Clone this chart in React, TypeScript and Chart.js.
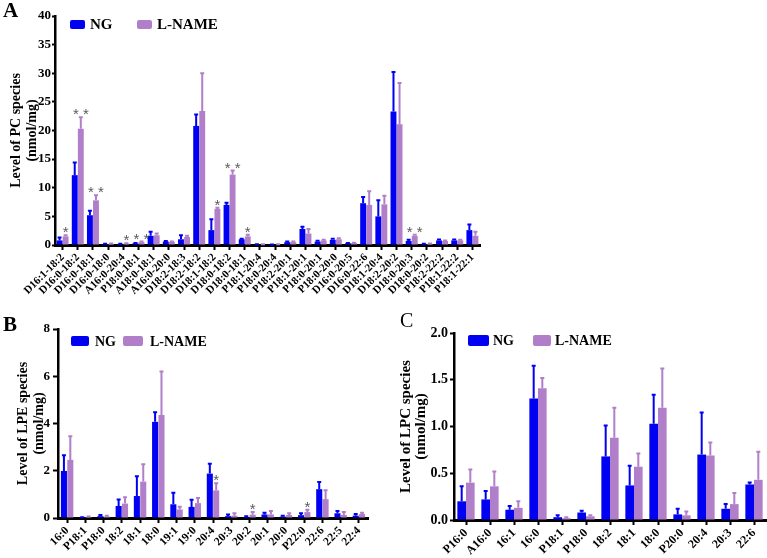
import React, { useEffect, useRef } from "react";
import { Chart, registerables } from "chart.js";
Chart.register(...registerables);

const NG_COLOR = "#0000F2";
const LN_COLOR = "#B17FC9";
const SERIF = "'Liberation Serif', 'Times New Roman', serif";

// ---------- Panel A: PC species ----------
const pcCategories = [
  "D16:1-18:2", "D16:0-18:2", "D16:0-18:1", "D16:0-18:0", "A16:0-20:4", "P18:0-18:1", "A18:0-18:1",
  "A16:0-20:0", "D18:2-18:3", "D18:2-18:2", "D18:1-18:2", "D18:0-18:2", "D18:0-18:1", "P18:1-20:4",
  "P18:0-20:4", "P18:2-20:1", "P18:1-20:1", "P18:0-20:1", "P18:0-20:0", "D16:0-20:5", "D16:0-22:6",
  "D18:1-20:4", "D18:2-20:2", "D18:0-20:3", "D18:0-20:2", "P18:2-22:2", "P18:1-22:2", "P18:1-22:1",
];
const pcNG = [0.8, 12.2, 5.2, 0.15, 0.15, 0.3, 1.6, 0.6, 1.0, 20.8, 2.6, 7.0, 1.0, 0.1, 0.05, 0.5, 2.8, 0.6, 0.9, 0.3, 7.3, 5.0, 23.3, 0.7, 0.15, 0.8, 0.8, 2.6];
const pcNGErr = [0.5, 2.2, 0.8, 0.05, 0.05, 0.05, 0.7, 0.1, 0.7, 2.0, 1.9, 0.4, 0.1, 0.05, 0.05, 0.1, 0.4, 0.15, 0.2, 0.05, 1.1, 2.8, 6.9, 0.2, 0.05, 0.15, 0.15, 1.0];
const pcLN = [1.5, 20.3, 7.8, 0.2, 0.25, 0.5, 1.7, 0.55, 1.4, 23.4, 6.3, 12.3, 1.5, 0.1, 0.1, 0.5, 2.0, 0.8, 1.0, 0.35, 7.0, 7.1, 21.1, 1.6, 0.2, 0.7, 0.8, 1.6];
const pcLNErr = [0.2, 2.0, 0.9, 0.05, 0.05, 0.1, 0.3, 0.05, 0.2, 6.6, 0.2, 0.7, 0.3, 0.05, 0.05, 0.1, 0.8, 0.1, 0.2, 0.05, 2.4, 1.5, 7.2, 0.2, 0.05, 0.1, 0.1, 0.7];
const pcStars = ["*", "* *", "* *", "", "*", "* *", "", "", "", "", "*", "* *", "*", "", "", "", "", "", "", "", "", "", "", "* *", "", "", "", ""];

// ---------- Panel B: LPE species ----------
const lpeCategories = ["16:0", "P18:1", "P18:0", "18:2", "18:1", "18:0", "19:1", "19:0", "20:4", "20:3", "20:2", "20:1", "20:0", "P22:0", "22:6", "22:5", "22:4"];
const lpeNG = [1.99, 0.02, 0.08, 0.51, 0.93, 4.07, 0.58, 0.47, 1.88, 0.08, 0.04, 0.15, 0.06, 0.12, 1.22, 0.2, 0.1];
const lpeNGErr = [0.67, 0.01, 0.05, 0.27, 0.84, 0.41, 0.49, 0.3, 0.42, 0.07, 0.03, 0.07, 0.03, 0.08, 0.3, 0.1, 0.07];
const lpeLN = [2.46, 0.04, 0.06, 0.61, 1.54, 4.36, 0.36, 0.63, 1.17, 0.1, 0.14, 0.15, 0.13, 0.25, 0.8, 0.13, 0.17];
const lpeLNErr = [1.0, 0.02, 0.04, 0.27, 0.74, 1.84, 0.12, 0.22, 0.3, 0.1, 0.11, 0.15, 0.07, 0.1, 0.37, 0.12, 0.05];
const lpeStars = ["", "", "", "", "", "", "", "", "*", "", "*", "", "", "*", "", "", ""];

// ---------- Panel C: LPC species ----------
const lpcCategories = ["P16:0", "A16:0", "16:1", "16:0", "P18:1", "P18:0", "18:2", "18:1", "18:0", "P20:0", "20:4", "20:3", "22:6"];
const lpcNG = [0.2, 0.22, 0.11, 1.3, 0.03, 0.08, 0.68, 0.37, 1.03, 0.06, 0.7, 0.12, 0.38];
const lpcNGErr = [0.16, 0.09, 0.04, 0.35, 0.02, 0.02, 0.33, 0.21, 0.31, 0.06, 0.45, 0.05, 0.02];
const lpcLN = [0.4, 0.36, 0.13, 1.41, 0.02, 0.04, 0.88, 0.57, 1.2, 0.05, 0.69, 0.17, 0.43];
const lpcLNErr = [0.14, 0.16, 0.07, 0.11, 0.01, 0.01, 0.32, 0.14, 0.42, 0.04, 0.14, 0.12, 0.3];
const lpcStars = ["", "", "", "", "", "", "", "", "", "", "", "", ""];

function errorBarPlugin(cap: number) {
  return {
    id: "errbars",
    afterDatasetsDraw(chart: any) {
      const ctx = chart.ctx;
      const y = chart.scales.y;
      chart.data.datasets.forEach((ds: any, di: number) => {
        const meta = chart.getDatasetMeta(di);
        meta.data.forEach((bar: any, i: number) => {
          const v = ds.data[i];
          const e = ds.errors[i];
          const yBar = y.getPixelForValue(v);
          const yTop = y.getPixelForValue(v + e);
          ctx.save();
          ctx.strokeStyle = ds.backgroundColor;
          ctx.lineWidth = 2;
          ctx.beginPath();
          ctx.moveTo(bar.x, yBar);
          ctx.lineTo(bar.x, yTop);
          ctx.moveTo(bar.x - cap, yTop);
          ctx.lineTo(bar.x + cap, yTop);
          ctx.stroke();
          ctx.restore();
          if (ds.stars && ds.stars[i]) {
            ctx.save();
            ctx.fillStyle = "#5a5a5a";
            ctx.font = "15px 'Liberation Sans', Arial, sans-serif";
            ctx.textAlign = "center";
            ctx.textBaseline = "alphabetic";
            ctx.fillText(ds.stars[i], bar.x, yTop + 2);
            ctx.restore();
          }
        });
      });
    },
  };
}

function legendPlugin(L: any) {
  return {
    id: "customLegend",
    afterDraw(chart: any) {
      const ctx = chart.ctx;
      ctx.save();
      ctx.font = `bold ${L.size}px ${SERIF}`;
      ctx.textBaseline = "middle";
      chart.data.datasets.forEach((ds: any, i: number) => {
        const it = L.items[i];
        ctx.fillStyle = ds.backgroundColor;
        ctx.beginPath();
        if (ctx.roundRect) ctx.roundRect(it.bx, L.y, it.bw, L.h, 2);
        else ctx.rect(it.bx, L.y, it.bw, L.h);
        ctx.fill();
        ctx.fillStyle = "#000";
        ctx.fillText(ds.label, it.tx, L.y + L.h / 2 + 1);
      });
      ctx.restore();
    },
  };
}

function buildConfig(p: any) {
  return {
    type: "bar",
    data: {
      labels: p.labels,
      datasets: [
        { label: "NG", data: p.ng, errors: p.ngErr, backgroundColor: NG_COLOR, borderWidth: 0 },
        { label: "L-NAME", data: p.ln, errors: p.lnErr, stars: p.stars, backgroundColor: LN_COLOR, borderWidth: 0 },
      ],
    },
    options: {
      responsive: false,
      maintainAspectRatio: false,
      animation: false,
      devicePixelRatio: 1,
      layout: { padding: { left: p.padLeft, top: p.padTop, right: p.padRight, bottom: 0 } },
      plugins: { legend: { display: false }, tooltip: { enabled: false } },
      datasets: { bar: { categoryPercentage: p.catPct, barPercentage: p.barPct } },
      scales: {
        x: {
          grid: { offset: false, drawOnChartArea: false, drawTicks: true, tickLength: 5, tickWidth: 2, tickColor: "#000" },
          border: { display: true, color: "#000", width: 3 },
          ticks: {
            autoSkip: false,
            minRotation: 45,
            maxRotation: 45,
            padding: 1,
            color: "#000",
            font: { family: SERIF, weight: "bold", size: p.xFont },
          },
          afterFit: (s: any) => {
            s.height = p.xh;
            s.paddingLeft = 0;
            s.paddingRight = 0;
          },
        },
        y: {
          min: 0,
          max: p.max,
          ticks: {
            stepSize: p.step,
            padding: p.yTickPad,
            color: "#000",
            font: { family: SERIF, weight: "bold", size: p.yFont },
            callback: (v: number) => (p.decimals ? Number(v).toFixed(p.decimals) : String(v)),
          },
          grid: { drawOnChartArea: false, drawTicks: true, tickLength: p.yTickLen, tickWidth: 2, tickColor: "#000" },
          border: { display: true, color: "#000", width: 2.5 },
          title: {
            display: true,
            text: p.yTitle,
            color: "#000",
            font: { family: SERIF, weight: "bold", size: p.titleFont, lineHeight: p.titleLH },
            padding: { top: p.titlePad, bottom: 0 },
          },
          afterFit: (s: any) => {
            s.width = p.yw;
          },
        },
      },
    },
    plugins: [errorBarPlugin(p.cap), legendPlugin(p.legend)],
  };
}

const panelA = {
  left: 0, top: 0, w: 490, h: 300,
  labels: pcCategories, ng: pcNG, ngErr: pcNGErr, ln: pcLN, lnErr: pcLNErr, stars: pcStars,
  padLeft: 0, padTop: 16, padRight: 10, yw: 55, xh: 55,
  max: 40, step: 5, decimals: 0, yFont: 13, xFont: 11, yTickLen: 3, yTickPad: 1,
  yTitle: ["Level of PC species", "(nmol/mg)"], titleFont: 14, titleLH: 1.15, titlePad: 8,
  catPct: 0.8, barPct: 0.97, cap: 2,
  legend: { size: 15, y: 20, h: 9, items: [{ bx: 70, bw: 15, tx: 90 }, { bx: 137, bw: 15, tx: 157 }] },
};

const panelB = {
  left: 0, top: 300, w: 380, h: 258,
  labels: lpeCategories, ng: lpeNG, ngErr: lpeNGErr, ln: lpeLN, lnErr: lpeLNErr, stars: lpeStars,
  padLeft: 0, padTop: 29, padRight: 12, yw: 58, xh: 40,
  max: 8, step: 2, decimals: 0, yFont: 13, xFont: 11.5, yTickLen: 5, yTickPad: 3,
  yTitle: ["Level of LPE species", "(nmol/mg)"], titleFont: 14, titleLH: 1.1, titlePad: 16,
  catPct: 0.7, barPct: 0.95, cap: 2,
  legend: { size: 14, y: 36, h: 10, items: [{ bx: 71, bw: 18, tx: 95 }, { bx: 123, bw: 20, tx: 150 }] },
};

const panelC = {
  left: 380, top: 295, w: 387, h: 263,
  labels: lpcCategories, ng: lpcNG, ngErr: lpcNGErr, ln: lpcLN, lnErr: lpcLNErr, stars: lpcStars,
  padLeft: 0, padTop: 38, padRight: 1, yw: 74, xh: 38,
  max: 2, step: 0.5, decimals: 1, yFont: 14, xFont: 12, yTickLen: 4, yTickPad: 2,
  yTitle: ["Level of LPC species", "(nmol/mg)"], titleFont: 15, titleLH: 1.0, titlePad: 19,
  catPct: 0.72, barPct: 1.0, cap: 2,
  legend: { size: 14, y: 40, h: 11, items: [{ bx: 88, bw: 21, tx: 113 }, { bx: 153, bw: 18, tx: 175 }] },
};

function Panel({ cfg }: { cfg: any }) {
  const ref = useRef<HTMLCanvasElement | null>(null);
  useEffect(() => {
    if (!ref.current) return;
    const chart = new Chart(ref.current, buildConfig(cfg) as any);
    return () => chart.destroy();
  }, [cfg]);
  return (
    <canvas
      ref={ref}
      width={cfg.w}
      height={cfg.h}
      style={{ position: "absolute", left: cfg.left, top: cfg.top, width: cfg.w, height: cfg.h, display: "block" }}
    />
  );
}

const letterStyle: React.CSSProperties = {
  position: "absolute",
  fontFamily: SERIF,
  lineHeight: 1,
  color: "#000",
};

export default function App() {
  return (
    <div style={{ position: "absolute", left: 0, top: 0, width: 767, height: 558, background: "#fff", overflow: "hidden" }}>
      <Panel cfg={panelA} />
      <Panel cfg={panelB} />
      <Panel cfg={panelC} />
      <div style={{ ...letterStyle, left: 3, top: 0, fontSize: 21, fontWeight: "bold" }}>A</div>
      <div style={{ ...letterStyle, left: 3, top: 314, fontSize: 21, fontWeight: "bold" }}>B</div>
      <div style={{ ...letterStyle, left: 400, top: 310, fontSize: 20, fontWeight: "normal" }}>C</div>
    </div>
  );
}
